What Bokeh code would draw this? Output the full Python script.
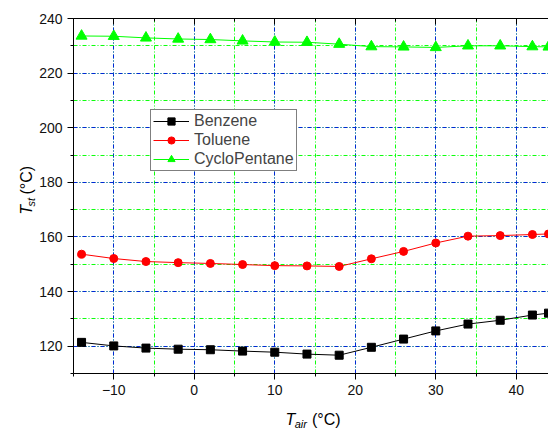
import math
from bokeh.plotting import figure
from bokeh.layouts import row, column
from bokeh.models import (Range1d, SingleIntervalTicker, LinearAxis, Label,
                          Legend, LegendItem, CustomJSTickFormatter)
from bokeh.embed import file_html
from bokeh.resources import INLINE

# ---- data ----
t_air = [-14, -10, -6, -2, 2, 6, 10, 14, 18, 22, 26, 30, 34, 38, 42, 44]
benzene = [121.4, 120.1, 119.3, 118.9, 118.7, 118.2, 117.8, 117.1, 116.7,
           119.6, 122.6, 125.6, 128.1, 129.5, 131.4, 132.1]
toluene = [153.7, 152.1, 151.0, 150.6, 150.3, 149.9, 149.5, 149.4, 149.2,
           152.0, 154.7, 157.8, 160.3, 160.5, 160.9, 161.1]
cyclopentane = [233.6, 233.5, 232.9, 232.5, 232.3, 231.8, 231.4, 231.3, 230.6,
                229.7, 229.6, 229.4, 230.0, 230.0, 229.7, 229.6]
series_names = ["Benzene", "Toluene", "CycloPentane"]
x_title_sub, y_title_sub, unit_text = "air", "st", "(°C)"

FONT = "Liberation Sans"
W_TOT, H_TOT = 548, 430
LEFT_STRIP = 36        # width of the strip holding the y title
BOTTOM_STRIP = 30      # height of the strip holding the x title
MAIN_W, MAIN_H = W_TOT - LEFT_STRIP, H_TOT - BOTTOM_STRIP

# ---------------- main chart ----------------
p = figure(width=MAIN_W, height=MAIN_H, x_range=Range1d(-15, 44), y_range=Range1d(110, 240),
           output_backend="svg", toolbar_location=None,
           min_border_left=73 - LEFT_STRIP, min_border_right=0, min_border_top=18,
           min_border_bottom=MAIN_H - 373)
p.outline_line_color = None

xticker = SingleIntervalTicker(interval=10, num_minor_ticks=2)
yticker = SingleIntervalTicker(interval=20, num_minor_ticks=2)
p.xaxis.ticker = xticker
p.yaxis.ticker = yticker
p.xgrid.ticker = xticker
p.ygrid.ticker = yticker

for ax in (p.xaxis, p.yaxis):
    ax.axis_line_color = "black"
    ax.major_tick_out = 6
    ax.major_tick_in = 0
    ax.minor_tick_out = 3
    ax.minor_tick_in = 0
    ax.major_tick_line_color = "black"
    ax.minor_tick_line_color = "black"
    ax.major_label_text_font = FONT
    ax.major_label_text_font_size = "14px"
    ax.major_label_text_color = "#111111"

top = LinearAxis(ticker=xticker, major_tick_in=6, major_tick_out=0,
                 minor_tick_in=3, minor_tick_out=0, axis_line_color="black",
                 formatter=CustomJSTickFormatter(code="return ''"))
p.add_layout(top, "above")

for g in (p.xgrid, p.ygrid):
    g.grid_line_color = "#0000FF"
    g.grid_line_dash = "4 2 1 2"
    g.grid_line_alpha = 0.85
    g.minor_grid_line_color = "#00FF00"
    g.minor_grid_line_dash = "4 2 1 2"
    g.minor_grid_line_alpha = 0.95

l1 = p.line(t_air, benzene, line_color="black", line_width=1)
s1 = p.scatter(t_air, benzene, marker="square", size=8, color="black")
l2 = p.line(t_air, toluene, line_color="#FF0000", line_width=1)
s2 = p.scatter(t_air, toluene, marker="circle", size=8, color="#FF0000")
l3 = p.line(t_air, cyclopentane, line_color="#00FF00", line_width=1)
s3 = p.scatter(t_air, cyclopentane, marker="triangle", size=11, color="#00FF00")

legend = Legend(items=[LegendItem(label=series_names[0], renderers=[l1, s1]),
                       LegendItem(label=series_names[1], renderers=[l2, s2]),
                       LegendItem(label=series_names[2], renderers=[l3, s3])],
                location=(77, 202), border_line_color="black", border_line_width=1,
                background_fill_alpha=1, label_text_font=FONT, label_text_font_size="16px",
                glyph_width=36, glyph_height=18, label_height=18, spacing=1,
                padding=2, margin=0, label_standoff=5)
p.add_layout(legend)

# ---------------- axis titles (italic T with subscript) ----------------
MAIN, SUB, SHIFT = 16, 11, 4
W = {"T": 611, "a": 556, "i": 222, "r": 333, "s": 500, "t": 278, " ": 278,
     "(": 333, "°": 400, "C": 722, ")": 333}
def tw(s, size):
    return sum(W[c] for c in s) * size / 1000.0

def title_parts(sub):
    # (text, size, style, baseline shift, advance after the part)
    return [("T", MAIN, "italic", 0, tw("T", MAIN) - 0.5),
            (sub, SUB, "italic", SHIFT, tw(sub, SUB) + 0.5 + tw(" ", MAIN)),
            (unit_text, MAIN, "normal", 0, tw(unit_text, MAIN))]

def strip(w, h):
    f = figure(width=w, height=h, x_range=Range1d(0, w), y_range=Range1d(h, 0),
               output_backend="svg", toolbar_location=None, x_axis_type=None,
               y_axis_type=None, min_border=0)
    f.min_border_left = f.min_border_right = f.min_border_top = f.min_border_bottom = 0
    f.outline_line_color = None
    f.grid.visible = False
    return f

# y title strip (left), coordinates = pixels inside the strip
ys = strip(LEFT_STRIP, MAIN_H)
parts = title_parts(y_title_sub)
total = sum(pt[4] for pt in parts)
yp = 195.5 + total / 2
for txt, size, style, shift, w in parts:
    ys.add_layout(Label(x=26 + shift, y=yp, text=txt, angle=math.pi / 2,
                        text_font=FONT, text_font_size=f"{size}px", text_font_style=style,
                        text_baseline="alphabetic", text_align="left", text_color="black"))
    yp -= w

# x title strip (bottom)
xs = strip(W_TOT, BOTTOM_STRIP)
parts = title_parts(x_title_sub)
total = sum(pt[4] for pt in parts)
xp = 312.5 - total / 2
for txt, size, style, shift, w in parts:
    xs.add_layout(Label(x=xp, y=419 - MAIN_H + shift, text=txt,
                        text_font=FONT, text_font_size=f"{size}px", text_font_style=style,
                        text_baseline="alphabetic", text_align="left", text_color="black"))
    xp += w

layout = column(row(ys, p, spacing=0), xs, spacing=0)
open("out.html", "w").write(file_html(layout, INLINE))
